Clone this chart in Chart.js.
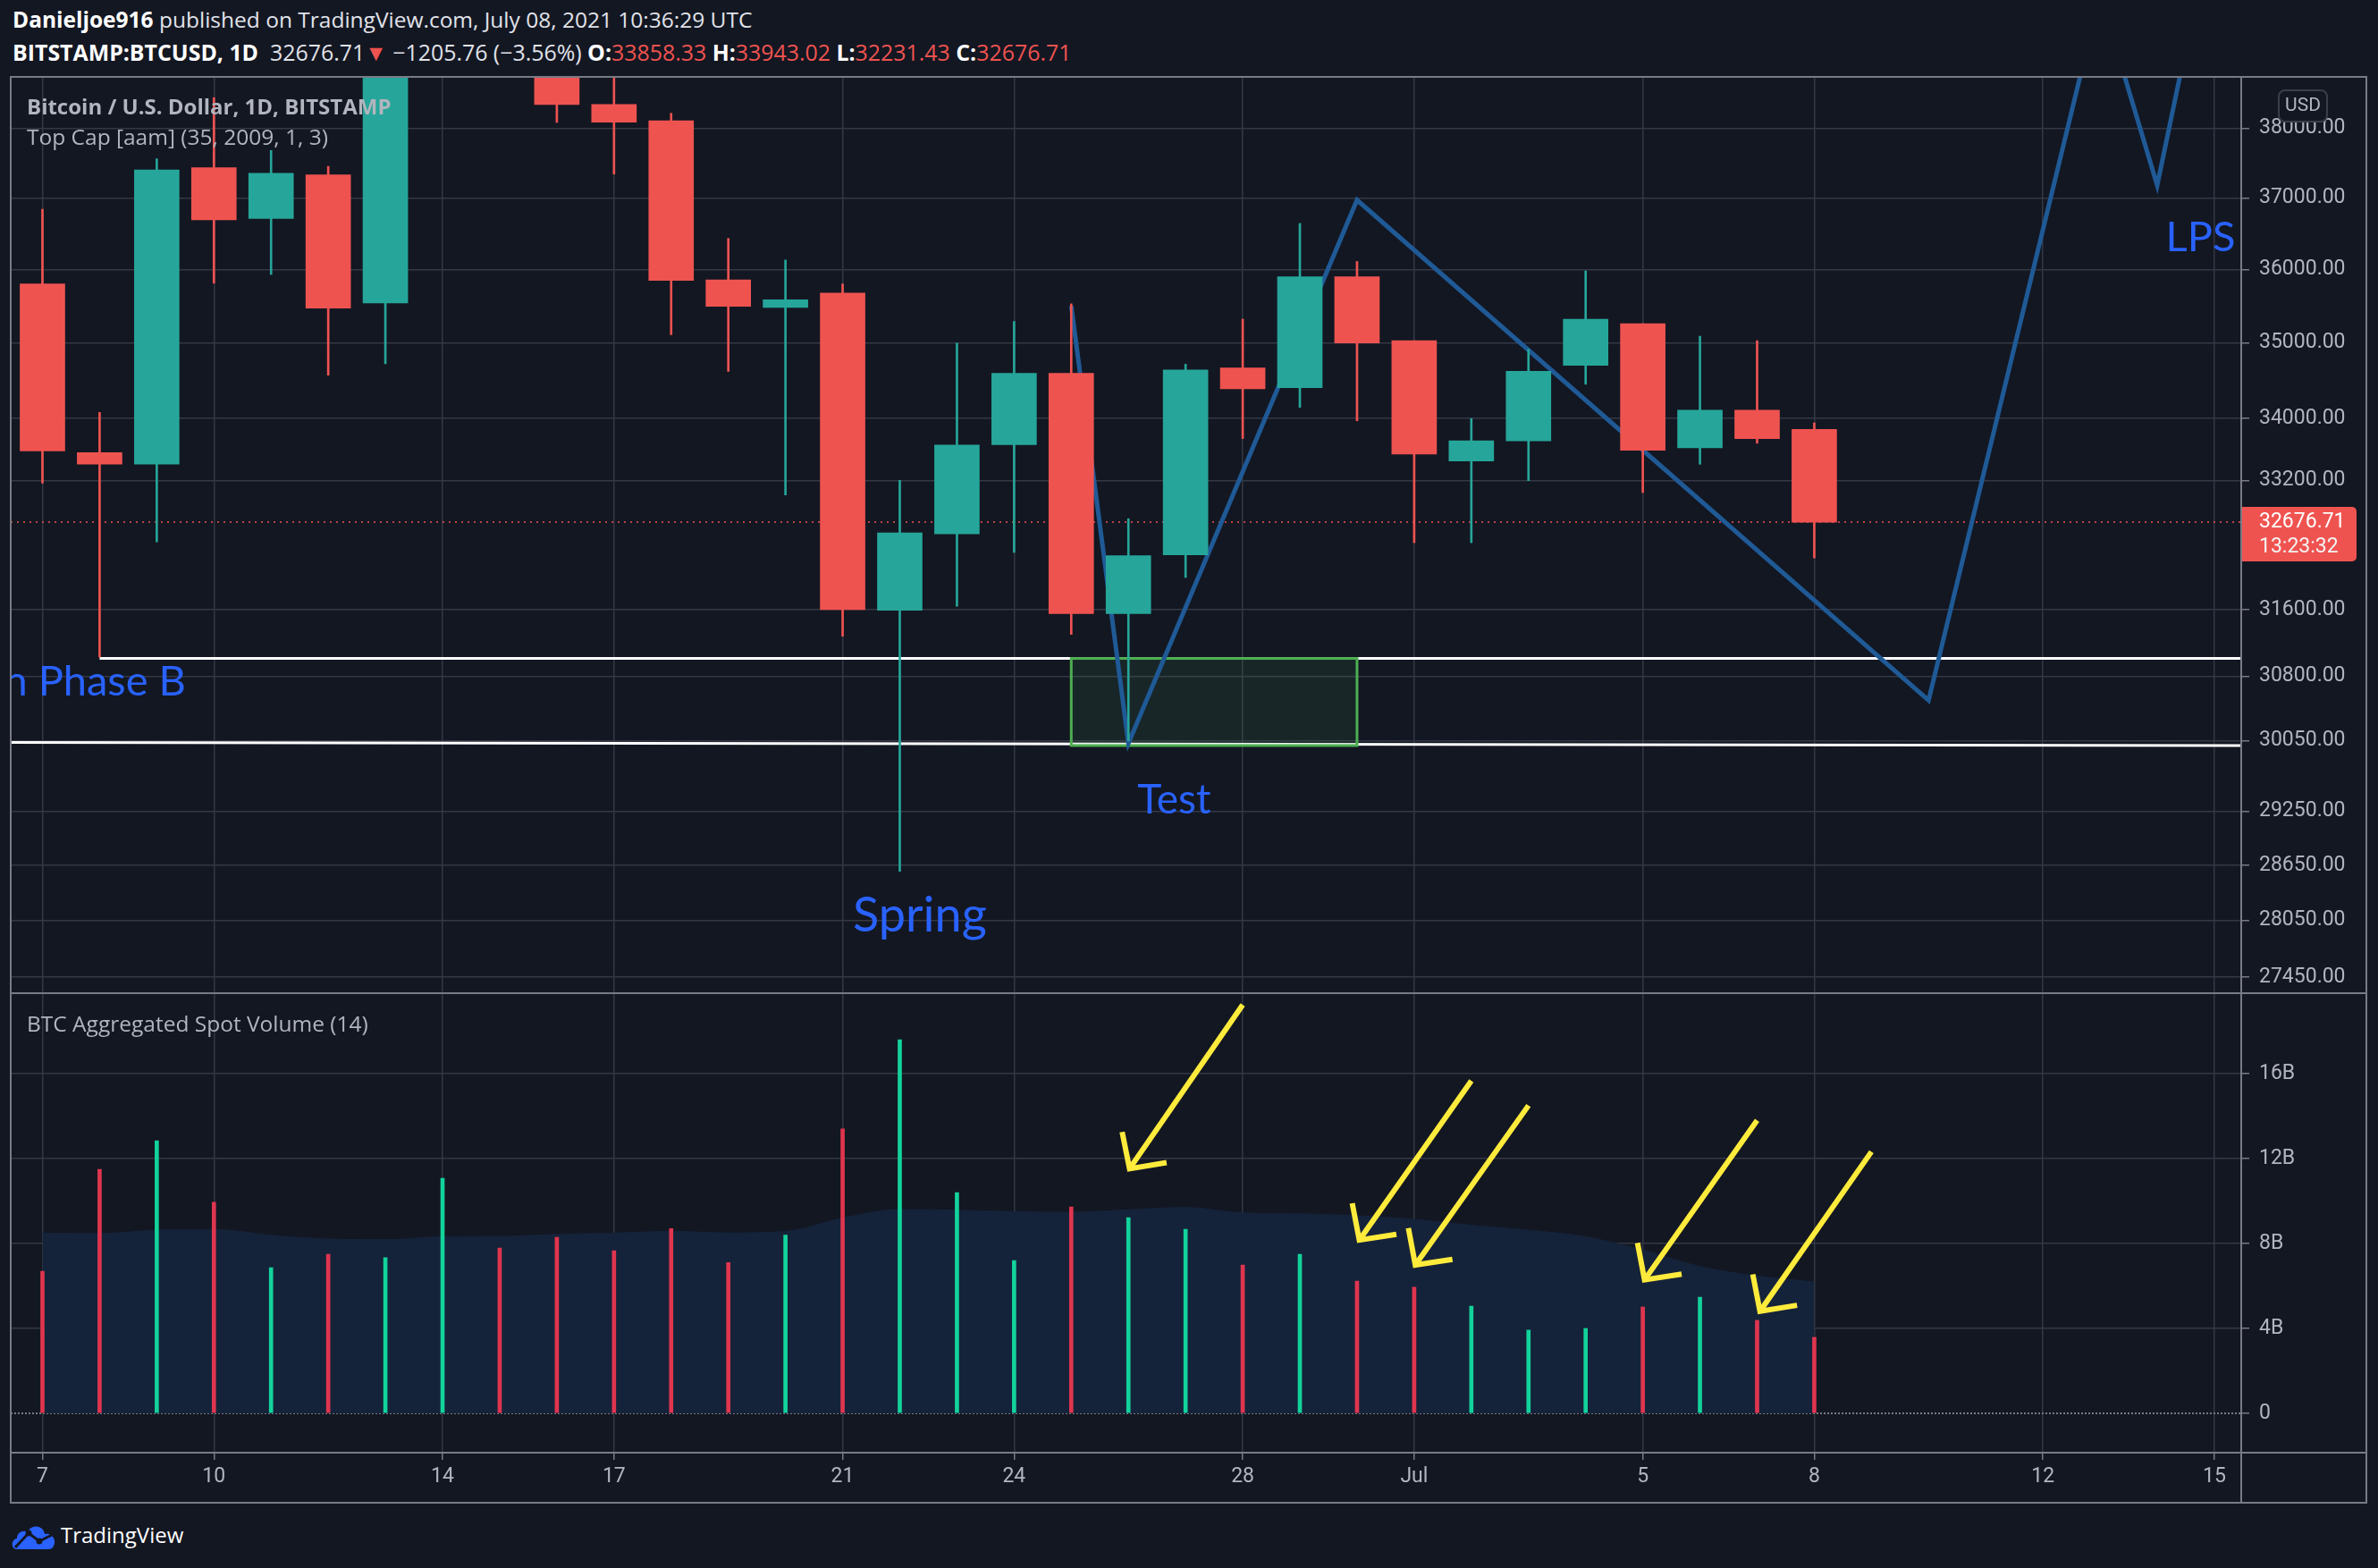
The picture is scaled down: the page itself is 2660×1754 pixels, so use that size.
<!DOCTYPE html>
<html>
<head>
<meta charset="utf-8">
<title>BTCUSD 1D</title>
<script src="https://cdn.jsdelivr.net/npm/chart.js@4.4.1/dist/chart.umd.min.js"></script>
<style>
  html, body { margin: 0; padding: 0; }
  body { width: 2660px; height: 1754px; background: #131722; position: relative; overflow: hidden; font-family: "Open Sans", sans-serif; }
  .abs { position: absolute; white-space: nowrap; }
  .head { left: 14px; color: #e1e3ea; font-size: 24.5px; line-height: 30px; }
  .head b { color: #ffffff; }
  .red { color: #ef5350; }
  .legend { left: 30px; color: #b2b5be; font-size: 24.5px; line-height: 30px; z-index: 3; }
  .ln { position: absolute; background: #787b86; z-index: 4; }
  canvas { position: absolute; }
</style>
</head>
<body>
<div class="abs head" style="top:7px"><b>Danieljoe916</b> published on TradingView.com, July 08, 2021 10:36:29 UTC</div>
<div class="abs head" style="top:43px;font-size:24.9px"><b>BITSTAMP:BTCUSD, 1D</b>&nbsp; 32676.71<span class="red">▼</span> −1205.76 (−3.56%) <b>O:</b><span class="red">33858.33</span> <b>H:</b><span class="red">33943.02</span> <b>L:</b><span class="red">32231.43</span> <b>C:</b><span class="red">32676.71</span></div>

<canvas id="price" width="2635" height="1025" style="left:12px;top:86px"></canvas>
<canvas id="volume" width="2635" height="570" style="left:12px;top:1111px"></canvas>

<div class="abs legend" style="top:104px;font-weight:700;font-size:24px">Bitcoin / U.S. Dollar, 1D, BITSTAMP</div>
<div class="abs legend" style="top:138px">Top Cap [aam] (35, 2009, 1, 3)</div>
<div class="abs legend" style="top:1130px">BTC Aggregated Spot Volume (14)</div>

<!-- pane frame -->
<div class="ln" style="left:11px;top:85px;width:2637px;height:2px"></div>
<div class="ln" style="left:11px;top:1110px;width:2637px;height:2px"></div>
<div class="ln" style="left:11px;top:1624px;width:2637px;height:2px"></div>
<div class="ln" style="left:11px;top:1680px;width:2637px;height:2px"></div>
<div class="ln" style="left:11px;top:85px;width:2px;height:1597px"></div>
<div class="ln" style="left:2506px;top:85px;width:2px;height:1597px"></div>
<div class="ln" style="left:2646px;top:85px;width:2px;height:1597px"></div>

<svg class="abs" style="left:12px;top:1702px" width="52" height="32" viewBox="0 0 52 32">
  <path d="M7 31 C0 31 0 20 7 19 C7 12 14 9 19 12 C22 3 36 3 38 14 C45 12 52 20 48 27 C47 30 45 31 42 31 Z" fill="#2962ff"/>
  <polyline points="5,29 20,13 32,22 46,15" stroke="#131722" stroke-width="3" fill="none"/>
  <circle cx="20" cy="13" r="3.5" fill="#131722"/>
  <circle cx="32" cy="22" r="3.5" fill="#131722"/>
</svg>
<div class="abs" style="left:68px;top:1702px;color:#ffffff;font-size:24px;line-height:30px">TradingView</div>

<script>
// daily candles, Jun 7 .. Jul 8 2021 (x = day offset from Jun 7)
const dates = ['Jun 7','Jun 8','Jun 9','Jun 10','Jun 11','Jun 12','Jun 13','Jun 14','Jun 15','Jun 16',
  'Jun 17','Jun 18','Jun 19','Jun 20','Jun 21','Jun 22','Jun 23','Jun 24','Jun 25','Jun 26',
  'Jun 27','Jun 28','Jun 29','Jun 30','Jul 1','Jul 2','Jul 3','Jul 4','Jul 5','Jul 6','Jul 7','Jul 8'];
const opens  = [35800, 33560, 33410, 37430, 36710, 37330, 35540, 39020, 40530, 40150,
  38350, 38110, 35855, 35480, 35675, 31590, 32530, 33660, 34596, 31550,
  32270, 34665, 34405, 35900, 35030, 33450, 33710, 34700, 35260, 33620, 34110, 33858.33];
const highs  = [36840, 34080, 37560, 38450, 37680, 37450, 39300, 41000, 41300, 40500,
  39500, 38220, 36430, 36130, 35800, 33204, 34996, 35290, 35530, 32720,
  34716, 35320, 36640, 36110, 35030, 34000, 34915, 35980, 35260, 35090, 35030, 33943.02];
const lows   = [33170, 31030, 32430, 35810, 35930, 34570, 34720, 38800, 39500, 38086,
  37340, 35110, 34620, 33020, 31280, 28583, 31640, 32300, 31300, 30050,
  31990, 33740, 34145, 33970, 32420, 32420, 33200, 34450, 33050, 33410, 33680, 32231.43];
const closes = [33580, 33410, 37400, 36690, 37350, 35470, 39020, 40530, 40150, 38350,
  38090, 35850, 35494, 35583, 31600, 32543, 33657, 34596, 31550, 32260,
  34640, 34390, 35900, 35000, 33540, 33710, 34620, 35320, 33590, 34110, 33740, 32676.71];
// aggregated spot volume, billions USD, and its 14-day average
const volumes = [6.69, 11.49, 12.84, 9.94, 6.86, 7.49, 7.33, 11.07, 7.79, 8.29,
  7.66, 8.7, 7.1, 8.4, 13.4, 17.6, 10.4, 7.2, 9.72, 9.22,
  8.67, 6.99, 7.49, 6.23, 5.94, 5.05, 3.92, 4.0, 5.01, 5.47, 4.38, 3.58];
const volumeMA = [8.49, 8.47, 8.63, 8.66, 8.39, 8.21, 8.18, 8.32, 8.33, 8.43,
  8.49, 8.57, 8.5, 8.57, 9.2, 9.6, 9.57, 9.5, 9.47, 9.59,
  9.7, 9.44, 9.4, 9.31, 9.14, 8.86, 8.63, 8.32, 7.69, 6.92, 6.47, 6.19];
const lastPrice = 32676.71;

const priceTicks = [27450, 28050, 28650, 29250, 30050, 30800, 31600, 33200, 34000, 35000, 36000, 37000, 38000];
const volumeTicks = [0, 4, 8, 12, 16];
const timeTickDays = [0, 3, 7, 10, 14, 17, 21, 24, 28, 31, 35, 38];
const timeTickLabels = ['7', '10', '14', '17', '21', '24', '28', 'Jul', '5', '8', '12', '15'];

// drawings (day offset, price)
const supportDays = [1, 39];      const supportPrices = [31013, 31013];
const floorDays = [-0.6, 38.5];   const floorPrices = [30032, 29994];
const pathDays = [18, 19, 23, 33, 36, 37, 38];
const pathPrices = [35500, 30020, 36970, 30520, 40000, 37180, 41300];
const testBoxDays = [18, 23];     const testBoxPrices = [29995, 31013];
// arrows on the volume pane (day offset, volume B)
const arrowFromDays = [21, 25, 26, 30, 32];
const arrowFromVol  = [19.24, 15.66, 14.5, 13.8, 12.32];
const arrowToDays   = [19.02, 23.04, 24.02, 28.03, 30.05];
const arrowToVol    = [11.52, 8.16, 6.99, 6.29, 4.81];

const UP = '#26a69a', DOWN = '#ef5350';
const GRID = '#343844', AXIS = '#787b86', TEXT = '#b2b5be', BLUE = '#2962ff';
const candleColor = opens.map((o, i) => closes[i] >= o ? UP : DOWN);
const volColor = opens.map((o, i) => closes[i] >= o ? '#12d39b' : '#e0354f');
const axisFont = { family: 'Roboto', size: 23 };

// text notes on the price pane
const notes = [
  { text: 'Accumulation Phase B', day: 2.51, price: 30575, size: 47, align: 'right' },
  { text: 'Spring', day: 15.35, price: 27934, size: 54, align: 'center' },
  { text: 'Test', day: 19.8, price: 29222, size: 46, align: 'center' },
  { text: 'LPS', day: 37.15, price: 36250, size: 47, align: 'left' }
];

const pricePlugin = {
  id: 'priceMarks',
  beforeDatasetsDraw(chart) {
    const { ctx, chartArea: a, scales: { y } } = chart;
    const py = y.getPixelForValue(lastPrice);
    ctx.save();
    ctx.strokeStyle = DOWN;
    ctx.lineWidth = 1.5;
    ctx.setLineDash([2, 5]);
    ctx.beginPath();
    ctx.moveTo(a.left, py);
    ctx.lineTo(a.right, py);
    ctx.stroke();
    ctx.restore();
  },
  beforeDatasetDraw(chart, args) {
    if (chart.data.datasets[args.index].label !== 'path') return;
    const { ctx, scales: { x, y } } = chart;
    const x0 = x.getPixelForValue(testBoxDays[0]), x1 = x.getPixelForValue(testBoxDays[1]);
    const y0 = y.getPixelForValue(testBoxPrices[1]), y1 = y.getPixelForValue(testBoxPrices[0]);
    ctx.save();
    ctx.fillStyle = 'rgba(70,165,90,0.11)';
    ctx.fillRect(x0, y0, x1 - x0, y1 - y0);
    ctx.strokeStyle = '#4caf50';
    ctx.lineWidth = 3;
    ctx.strokeRect(x0, y0, x1 - x0, y1 - y0);
    ctx.restore();
  },
  afterDatasetsDraw(chart) {
    const { ctx, chartArea: a, scales: { x, y } } = chart;
    ctx.save();
    ctx.beginPath();
    ctx.rect(a.left, a.top, a.width, a.height);
    ctx.clip();
    ctx.fillStyle = BLUE;
    ctx.textBaseline = 'alphabetic';
    notes.forEach(n => {
      ctx.font = n.size + 'px Lato';
      ctx.textAlign = n.align;
      ctx.fillText(n.text, x.getPixelForValue(n.day), y.getPixelForValue(n.price));
    });
    ctx.restore();
  },
  afterDraw(chart) {
    const { ctx, chartArea: a, scales: { y } } = chart;
    const py = y.getPixelForValue(lastPrice);
    ctx.save();
    // last price tag
    ctx.fillStyle = DOWN;
    ctx.beginPath();
    ctx.roundRect(a.right, py - 17, 129, 61, [0, 5, 5, 0]);
    ctx.fill();
    ctx.fillStyle = '#ffffff';
    ctx.font = '23px Roboto';
    ctx.textAlign = 'left';
    ctx.textBaseline = 'middle';
    ctx.fillText(lastPrice.toFixed(2), a.right + 20, py);
    ctx.fillStyle = '#f3f3f3';
    ctx.fillText('13:23:32', a.right + 20, py + 28);
    // currency badge
    ctx.fillStyle = '#131722';
    ctx.strokeStyle = '#3a3e4a';
    ctx.lineWidth = 2;
    ctx.beginPath();
    ctx.roundRect(a.right + 42, 15, 54, 35, 7);
    ctx.fill();
    ctx.stroke();
    ctx.fillStyle = TEXT;
    ctx.font = '21px Roboto';
    ctx.textAlign = 'center';
    ctx.fillText('USD', a.right + 69, 33);
    ctx.restore();
  }
};

const volumePlugin = {
  id: 'volumeMarks',
  beforeDatasetsDraw(chart) {
    const { ctx, chartArea: a, scales: { y } } = chart;
    const py = y.getPixelForValue(0);
    ctx.save();
    ctx.strokeStyle = AXIS;
    ctx.lineWidth = 2;
    ctx.setLineDash([2, 2]);
    ctx.beginPath();
    ctx.moveTo(a.left, py);
    ctx.lineTo(a.right, py);
    ctx.stroke();
    ctx.restore();
  },
  afterDatasetsDraw(chart) {
    const { ctx, scales: { x, y } } = chart;
    ctx.save();
    ctx.strokeStyle = '#ffeb3b';
    ctx.lineWidth = 6;
    ctx.lineJoin = 'miter';
    arrowFromDays.forEach((d, i) => {
      const fx = x.getPixelForValue(d), fy = y.getPixelForValue(arrowFromVol[i]);
      const tx = x.getPixelForValue(arrowToDays[i]), ty = y.getPixelForValue(arrowToVol[i]);
      const back = Math.atan2(fy - ty, fx - tx);
      const w = 46 * Math.PI / 180, len = 42;
      ctx.beginPath();
      ctx.moveTo(fx, fy);
      ctx.lineTo(tx, ty);
      ctx.stroke();
      ctx.beginPath();
      ctx.moveTo(tx + len * Math.cos(back - w), ty + len * Math.sin(back - w));
      ctx.lineTo(tx, ty);
      ctx.lineTo(tx + len * Math.cos(back + w), ty + len * Math.sin(back + w));
      ctx.stroke();
    });
    ctx.restore();
  }
};

const setTicks = values => scale => { scale.ticks = values.map(v => ({ value: v })); };
// fixed axis sizes, and no extra padding for the first/last tick labels
const fixHeight = h => s => { s.height = h; s.paddingLeft = 0; s.paddingRight = 0; };
const fixWidth = w => s => { s.width = w; s.paddingTop = 0; s.paddingBottom = 0; };

new Chart(document.getElementById('price'), {
  type: 'bar',
  data: {
    datasets: [
      { label: 'body', data: opens.map((o, i) => ({ x: i, y: [o, closes[i]] })),
        backgroundColor: candleColor, barThickness: 50, grouped: false, clip: 0, order: 0 },
      { label: 'wick', data: lows.map((l, i) => ({ x: i, y: [l, highs[i]] })),
        backgroundColor: candleColor, barThickness: 2, grouped: false, clip: 0, order: 1 },
      { type: 'line', label: 'path', data: pathDays.map((d, i) => ({ x: d, y: pathPrices[i] })),
        borderColor: '#1f5a96', borderWidth: 5, pointRadius: 0, clip: 0, order: 2 },
      { type: 'line', label: 'support', data: supportDays.map((d, i) => ({ x: d, y: supportPrices[i] })),
        borderColor: '#ffffff', borderWidth: 3, pointRadius: 0, clip: 0, order: 3 },
      { type: 'line', label: 'floor', data: floorDays.map((d, i) => ({ x: d, y: floorPrices[i] })),
        borderColor: '#ffffff', borderWidth: 3, pointRadius: 0, clip: 0, order: 3 }
    ]
  },
  options: {
    responsive: false,
    animation: false,
    devicePixelRatio: 1,
    layout: { padding: 0, autoPadding: false },
    plugins: { legend: { display: false }, tooltip: { enabled: false } },
    scales: {
      x: {
        type: 'linear', min: -0.555, max: 38.47, offset: false,
        grid: { color: GRID, lineWidth: 1.5, drawTicks: false, offset: false },
        border: { display: false },
        ticks: { display: false },
        afterBuildTicks: setTicks(timeTickDays),
        afterFit: fixHeight(0)
      },
      y: {
        type: 'logarithmic', position: 'right', min: 27279, max: 38757, bounds: 'data',
        grid: { color: GRID, lineWidth: 1.5, tickLength: 9, tickColor: AXIS },
        border: { display: false },
        ticks: { callback: v => Number(v).toFixed(2), color: TEXT, font: axisFont, padding: 11, autoSkip: false },
        afterBuildTicks: setTicks(priceTicks),
        afterFit: fixWidth(140)
      }
    }
  },
  plugins: [pricePlugin]
});

new Chart(document.getElementById('volume'), {
  type: 'bar',
  data: {
    datasets: [
      { label: 'volume', data: volumes.map((v, i) => ({ x: i, y: v })),
        backgroundColor: volColor, barThickness: 4, grouped: false, order: 0 },
      { type: 'line', label: 'average', data: volumeMA.map((v, i) => ({ x: i, y: v })),
        fill: 'origin', backgroundColor: '#15233a', borderColor: '#15233a', borderWidth: 1,
        pointRadius: 0, cubicInterpolationMode: 'monotone', order: 1 }
    ]
  },
  options: {
    responsive: false,
    animation: false,
    devicePixelRatio: 1,
    layout: { padding: 0, autoPadding: false },
    plugins: { legend: { display: false }, tooltip: { enabled: false } },
    scales: {
      x: {
        type: 'linear', min: -0.555, max: 38.47, offset: false,
        grid: { color: GRID, lineWidth: 1.5, tickLength: 8, tickColor: AXIS, offset: false },
        border: { display: false },
        ticks: { callback: (v, i) => timeTickLabels[i], color: TEXT, font: axisFont, padding: 5,
                 autoSkip: false, maxRotation: 0 },
        afterBuildTicks: setTicks(timeTickDays),
        afterFit: fixHeight(56)
      },
      y: {
        type: 'linear', position: 'right', min: -1.853, max: 19.79,
        grid: { color: c => (c.tick && c.tick.value === 0) ? 'rgba(0,0,0,0)' : GRID,
                lineWidth: 1.5, tickLength: 9, tickColor: AXIS },
        border: { display: false },
        ticks: { callback: v => v === 0 ? '0' : v + 'B', color: TEXT, font: axisFont, padding: 11, autoSkip: false },
        afterBuildTicks: setTicks(volumeTicks),
        afterFit: fixWidth(140)
      }
    }
  },
  plugins: [volumePlugin]
});
</script>
</body>
</html>
